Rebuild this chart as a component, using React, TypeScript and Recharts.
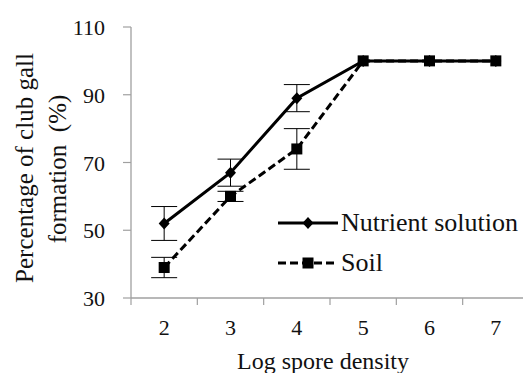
import { ComposedChart, Line, XAxis, YAxis, ErrorBar, Legend } from 'recharts';

const densities = [2, 3, 4, 5, 6, 7];
const nutrient = [52, 67, 89, 100, 100, 100];
const nutrientErr = [5, 4, 4, null, null, null];
const soil = [39, 60, 74, 100, 100, 100];
const soilErr = [3, 1.5, 6, null, null, null];
const yTicks = [30, 50, 70, 90, 110];
// category boundaries (Excel-style tick marks) plus category centres (labels)
const xTicks = [1.5, 2, 2.5, 3, 3.5, 4, 4.5, 5, 5.5, 6, 6.5, 7, 7.5];

const data = densities.map((d, i) => ({
  x: d,
  nutrient: nutrient[i],
  nutrientErr: nutrientErr[i],
  soil: soil[i],
  soilErr: soilErr[i],
}));

const FONT = 'Liberation Serif';
const AXIS = '#a0a0a0';

const Diamond = (props: any) => {
  const { cx, cy } = props;
  if (cx == null || cy == null) return null;
  return <path d={`M${cx},${cy - 6}L${cx + 5.5},${cy}L${cx},${cy + 6}L${cx - 5.5},${cy}Z`} fill="#000" />;
};

const Square = (props: any) => {
  const { cx, cy } = props;
  if (cx == null || cy == null) return null;
  return <rect x={cx - 5.5} y={cy - 5.5} width={11} height={11} fill="#000" />;
};

const XTick = (props: any) => {
  const { x, y, payload } = props;
  const v = payload.value;
  if (Number.isInteger(v)) {
    return (
      <text x={x} y={y + 37} textAnchor="middle" fontSize={22} style={{ fontFamily: FONT }} fill="#111">
        {v}
      </text>
    );
  }
  return <line x1={x} x2={x} y1={y} y2={y + 7} stroke={AXIS} strokeWidth={1.2} />;
};

const YTick = (props: any) => {
  const { x, y, payload } = props;
  return (
    <text x={x} y={y + 8} textAnchor="end" fontSize={22} style={{ fontFamily: FONT }} fill="#111">
      {payload.value}
    </text>
  );
};

const YLabel = () => (
  <g style={{ fontFamily: FONT }} fontSize={25} fill="#111">
    <text x={33} y={168} textAnchor="middle" transform="rotate(-90, 33, 168)">
      Percentage of club gall
    </text>
    <text x={66} y={169} textAnchor="middle" transform="rotate(-90, 66, 169)" style={{ whiteSpace: 'pre' }}>
      {'formation  (%)'}
    </text>
  </g>
);

const XLabel = () => (
  <text x={323} y={369} textAnchor="middle" style={{ fontFamily: FONT }} fontSize={24} fill="#111">
    Log spore density
  </text>
);

const renderLegend = () => {
  const rows = [
    { name: 'Nutrient solution', dash: undefined, shape: 'diamond' },
    { name: 'Soil', dash: '8 4', shape: 'square' },
  ];
  return (
    <div style={{ fontFamily: FONT }}>
      {rows.map((r) => (
        <div key={r.name} style={{ display: 'flex', alignItems: 'center', height: 40 }}>
          <svg width={62} height={40}>
            <line x1={0} x2={60} y1={20} y2={20} stroke="#000" strokeWidth={3} strokeDasharray={r.dash} />
            {r.shape === 'diamond' ? <Diamond cx={30} cy={20} /> : <Square cx={30} cy={20} />}
          </svg>
          <span style={{ fontSize: 26, color: '#111', whiteSpace: 'nowrap', marginLeft: 1, fontFamily: FONT }}>{r.name}</span>
        </div>
      ))}
    </div>
  );
};

export default function App() {
  return (
    <div style={{ position: 'fixed', left: 0, top: 0, width: 523, height: 373, overflow: 'hidden', background: '#fff', fontFamily: FONT }}>
      <ComposedChart width={540} height={373} data={data} margin={{ top: 27, right: 11, bottom: 0, left: 0 }}>
        <XAxis
          dataKey="x"
          type="number"
          domain={[1.5, 7.5]}
          ticks={xTicks}
          interval={0}
          tickSize={0}
          tickMargin={0}
          tickLine={false}
          tick={<XTick />}
          axisLine={{ stroke: AXIS, strokeWidth: 1.3 }}
          height={75}
          label={<XLabel />}
        />
        <YAxis
          type="number"
          domain={[30, 110]}
          ticks={yTicks}
          interval={0}
          width={131}
          tickSize={8}
          tickMargin={18}
          tick={<YTick />}
          tickLine={{ stroke: AXIS, strokeWidth: 1.2 }}
          axisLine={{ stroke: AXIS, strokeWidth: 1.3 }}
          label={<YLabel />}
        />
        <Legend
          layout="horizontal"
          verticalAlign="middle"
          content={renderLegend}
          wrapperStyle={{ left: 278, top: 203, width: 'auto' }}
        />
        <Line
          dataKey="nutrient"
          stroke="#000"
          strokeWidth={3}
          dot={<Diamond />}
          activeDot={false}
          isAnimationActive={false}
        >
          <ErrorBar dataKey="nutrientErr" direction="y" width={13} stroke="#000" strokeWidth={1} />
        </Line>
        <Line
          dataKey="soil"
          stroke="#000"
          strokeWidth={3}
          strokeDasharray="8 4"
          dot={<Square />}
          activeDot={false}
          isAnimationActive={false}
        >
          <ErrorBar dataKey="soilErr" direction="y" width={13} stroke="#000" strokeWidth={1} />
        </Line>
      </ComposedChart>
    </div>
  );
}
